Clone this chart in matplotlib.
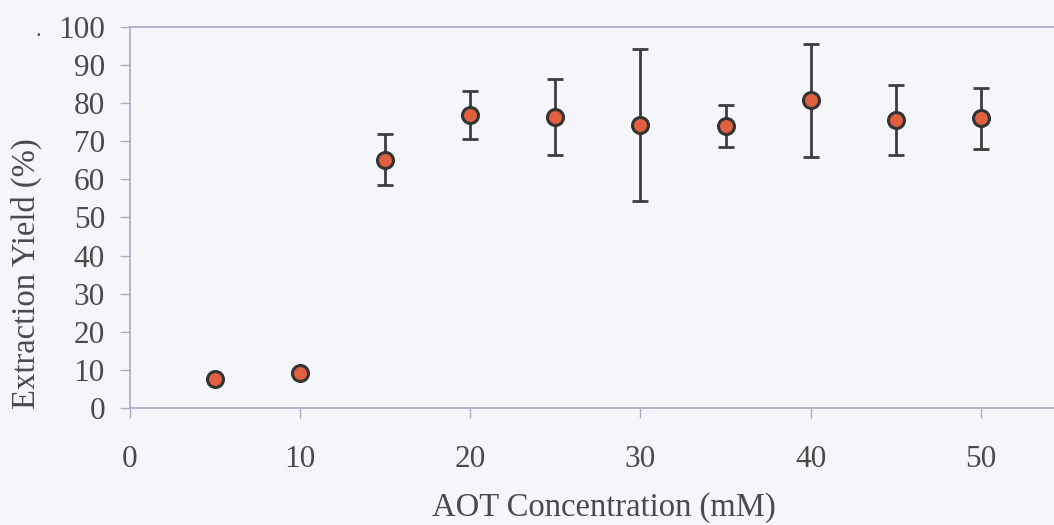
import matplotlib.pyplot as plt

# AOT concentration (mM) vs extraction yield (%), mean and standard deviation
aot_mM = [5, 10, 15, 20, 25, 30, 35, 40, 45, 50]
yield_pct = [7.7, 9.2, 65.1, 76.9, 76.4, 74.2, 74.0, 80.8, 75.6, 76.1]
yield_sd = [0.0, 0.0, 6.7, 6.3, 10.0, 20.0, 5.4, 14.8, 9.3, 8.0]

x_ticks = [0, 10, 20, 30, 40, 50]
y_ticks = list(range(0, 101, 10))

text_color = "#4a4a4a"
axis_color = "#a9aac4"
bg_color = "#f5f6fa"

plt.rcParams["font.family"] = ["Liberation Serif", "DejaVu Serif"]

fig = plt.figure(figsize=(10.54, 5.25), dpi=100, facecolor=bg_color)
ax = fig.add_axes([0.1233, 0.2229, 0.8767, 0.7257], facecolor=bg_color)

# error bars only where a spread was measured, markers on top
bars = [(x, y, s) for x, y, s in zip(aot_mM, yield_pct, yield_sd) if s > 0]
ax.errorbar([b[0] for b in bars], [b[1] for b in bars],
            yerr=[b[2] for b in bars], fmt="none", ecolor="#3d3d3d",
            elinewidth=2.0, capsize=6, capthick=2.0, zorder=2)
ax.plot(aot_mM, yield_pct, "o", markerfacecolor="#e0603f",
        markeredgecolor="#333333", markeredgewidth=2.2, markersize=11.5,
        zorder=3)

ax.set_xlim(0, 54.3)
ax.set_ylim(0, 100)
ax.set_xticks(x_ticks)
ax.set_yticks(y_ticks)

for side in ["left", "bottom", "top"]:
    ax.spines[side].set_color(axis_color)
    ax.spines[side].set_linewidth(1.2)
ax.spines["right"].set_visible(False)

ax.tick_params(axis="both", colors=axis_color, labelcolor=text_color,
               labelsize=22.5, length=7, width=1.0, direction="out")
ax.tick_params(axis="x", pad=20)
ax.tick_params(axis="y", pad=11)

ax.set_xlabel("AOT Concentration (mM)", fontsize=23.5, color=text_color)
ax.set_ylabel("Extraction Yield (%)", fontsize=23.5, color=text_color)
ax.xaxis.set_label_coords(0.513, -0.222)
ax.yaxis.set_label_coords(-0.095, 0.352)

# small stray mark left of the top tick label
fig.text(0.036, 0.94, ".", fontsize=16, color=text_color,
         ha="center", va="center")

fig.savefig("out.png", dpi=100, facecolor=bg_color)
